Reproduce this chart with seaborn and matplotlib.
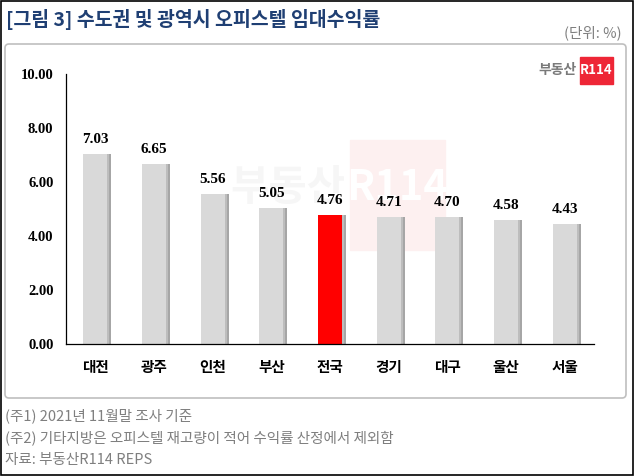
import matplotlib
matplotlib.use("Agg")
import matplotlib.pyplot as plt
import seaborn as sns
import pandas as pd
import numpy as np
from matplotlib.patches import FancyBboxPatch, Rectangle

categories = ["대전", "광주", "인천", "부산", "전국", "경기", "대구", "울산", "서울"]
values = [7.03, 6.65, 5.56, 5.05, 4.76, 4.71, 4.70, 4.58, 4.43]
highlight = "전국"
y_ticks = [0, 2, 4, 6, 8, 10]
title = "[그림 3] 수도권 및 광역시 오피스텔 임대수익률"
unit = "(단위: %)"
notes = ["(주1) 2021년 11월말 조사 기준",
         "(주2) 기타지방은 오피스텔 재고량이 적어 수익률 산정에서 제외함",
         "자료: 부동산R114 REPS"]

sns.set_theme(style="white")
plt.rcParams['font.family'] = ['Noto Sans CJK KR', 'DejaVu Sans']

W, H = 634, 476
fig = plt.figure(figsize=(W / 100, H / 100), dpi=100)

def fx(px):
    return px / W

def fy(py):
    return 1 - py / H

# background axes for decorations / watermark
bg = fig.add_axes([0, 0, 1, 1], zorder=0)
bg.set_xlim(0, W)
bg.set_ylim(H, 0)
bg.axis("off")

bg.add_patch(Rectangle((0.5, 0.5), W - 1.5, H - 1.5, fill=False,
                       edgecolor="black", linewidth=1.2))
bg.add_patch(FancyBboxPatch((5, 44), 621, 354,
                            boxstyle="round,pad=0,rounding_size=4",
                            fill=False, edgecolor="#bfbfbf", linewidth=1.2))

bg.text(6, 20, title, fontsize=14, fontweight="bold",
        color="#1f3f73", va="center", ha="left")
bg.text(622, 33, unit, fontsize=10.5, color="#7f7f7f",
        va="center", ha="right")

# logo
bg.text(577, 70, "부동산", fontsize=10, fontweight="bold",
        color="#7a7a7a", va="center", ha="right")
bg.add_patch(Rectangle((580, 57), 33, 27, color="#ee2636"))
bg.text(596.5, 70, "R114", fontsize=9.5, fontweight="bold",
        color="white", va="center", ha="center")

# watermark (very faint)
bg.text(345, 188, "부동산", fontsize=30, fontweight="bold",
        color="#f6f6f6", va="center", ha="right")
bg.add_patch(Rectangle((350, 140), 95, 110, color="#fdf0f0"))
bg.text(397, 188, "R114", fontsize=30, fontweight="bold",
        color="#ffffff", va="center", ha="center")

for i, n in enumerate(notes):
    bg.text(5, 416 + i * 22, n, fontsize=10.5, color="#7f7f7f",
            va="center", ha="left")

ax = fig.add_axes([fx(66), fy(344), fx(594 - 66), (344 - 74) / H], zorder=2)
ax.set_facecolor("none")
ax.patch.set_alpha(0)

df = pd.DataFrame({"region": categories, "value": values})
palette = {c: ("#ff0000" if c == highlight else "#d9d9d9") for c in categories}

# shadows
x = np.arange(len(categories))
ax.bar(x + 0.07, values, width=0.41, color="#a6a6a6", zorder=1, linewidth=0)
ax.bar(x + 0.035, values, width=0.41, color="#bdbdbd", zorder=1, linewidth=0)

sns.barplot(data=df, x="region", y="value", hue="region", palette=palette,
            order=categories, width=0.41, legend=False, ax=ax, zorder=2,
            saturation=1, linewidth=0)

for i, v in enumerate(values):
    ax.text(i, v + 0.3, f"{v:.2f}", ha="center", va="bottom",
            fontsize=11, fontweight="bold", family="Liberation Serif",
            color="black")

ax.set_xlim(-0.5, len(categories) - 0.5)
ax.set_ylim(0, 10)
ax.set_yticks(y_ticks)
ax.set_yticklabels([f"{t:.2f}" for t in y_ticks], fontsize=10.5,
                   fontweight="bold", family="Liberation Serif")
ax.set_xticks(x)
ax.set_xticklabels(categories, fontsize=10.5, fontweight="bold")
ax.set_xticks(np.arange(len(categories) + 1) - 0.5, minor=True)
ax.tick_params(axis="x", which="major", length=0, pad=11, colors="black")
ax.tick_params(axis="x", which="minor", direction="in", length=4,
               width=0.8, color="black")
ax.tick_params(axis="y", direction="in", length=5, width=0.8, color="black",
               pad=9, labelcolor="black")
ax.set_xlabel("")
ax.set_ylabel("")
for s in ["top", "right"]:
    ax.spines[s].set_visible(False)
for s in ["left", "bottom"]:
    ax.spines[s].set_color("black")
    ax.spines[s].set_linewidth(0.9)

fig.savefig("out.png", dpi=100)
